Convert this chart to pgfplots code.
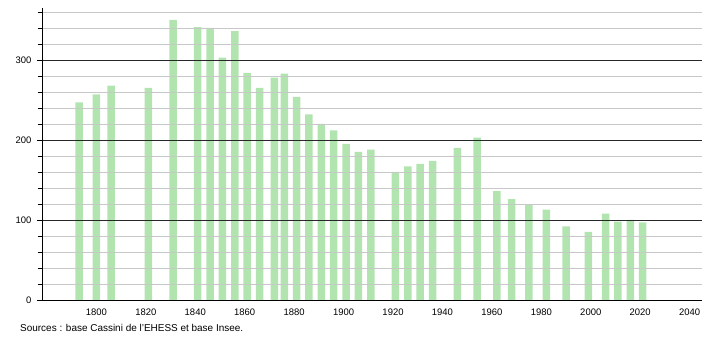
\documentclass[border=0pt]{standalone}
\usepackage{pgfplots}
\pgfplotsset{compat=1.18}
\usepackage{fontspec}
\setmainfont{Liberation Sans}
\definecolor{barg}{RGB}{178,228,176}
\definecolor{minorg}{RGB}{200,200,200}
\definecolor{majorg}{RGB}{40,40,40}
\begin{document}
\begin{tikzpicture}
\useasboundingbox (0,0) rectangle (710bp,340bp);
\begin{axis}[
  at={(42bp,40bp)}, anchor=south west,
  scale only axis, width=660bp, height=292bp,
  xmin=1778, xmax=2045, ymin=0, ymax=365,
  axis x line*=bottom, axis y line*=left,
  axis line style={black, line width=0.8pt, -},
  xtick={1800,1820,...,2040},
  ytick={0,100,200,300},
  minor ytick={20,40,60,80,120,140,160,180,220,240,260,280,320,340,360},
  ymajorgrids, yminorgrids,
  major grid style={majorg, line width=0.6pt},
  minor grid style={minorg, line width=0.5pt},
  x tick style={draw=none},
  y tick style={black, line width=0.5pt},
  tick align=outside, major tick length=5bp, minor tick length=4bp,
  minor y tick style={black},
  tick label style={font=\fontsize{9.5}{10}\selectfont},
  /pgf/number format/assume math mode=true,
  /pgf/number format/1000 sep={},
  xticklabel style={yshift=0bp},
  yticklabel style={xshift=-2bp},
  axis on top,
  clip=false,
]
\addplot[ybar, bar width=7.5bp, fill=barg, draw=none] coordinates {
(1793,247) (1800,257) (1806,268) (1821,265) (1831,350)
(1841,341) (1846,340) (1851,303) (1856,336) (1861,284)
(1866,265) (1872,278) (1876,283) (1881,254) (1886,232)
(1891,220) (1896,212) (1901,195) (1906,185) (1911,188)
(1921,160) (1926,167) (1931,170) (1936,174) (1946,190)
(1954,203) (1962,136) (1968,126) (1975,119) (1982,113)
(1990,92) (1999,85) (2006,108) (2011,98) (2016,100) (2021,97)
};
\end{axis}
\node[anchor=base west, font=\fontsize{10}{11}\selectfont, inner sep=0pt] at (20bp,8.5bp) {Sources : base Cassini de l'EHESS et base Insee.};
\end{tikzpicture}
\end{document}
